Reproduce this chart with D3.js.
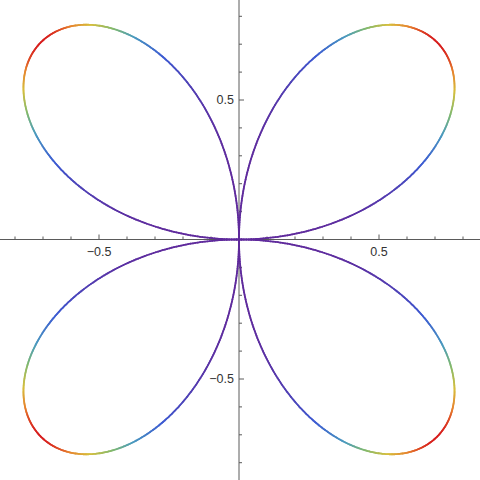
<!DOCTYPE html>
<html><head><meta charset="utf-8">
<script src="https://cdn.jsdelivr.net/npm/d3@7"></script>
<style>html,body{margin:0;padding:0;background:#fff;}</style>
</head><body>
<svg id="chart" width="480" height="480"></svg>
<script>
// Polar rose r = sin(petalFactor * theta)
const petalFactor = 2;
const thetaSamples = d3.range(0, 2 * Math.PI + 1e-9, Math.PI / 720);
const majorTicks = [-0.5, 0.5];
const majorTickLabels = ["\u22120.5", "0.5"];
const minorTicks = [-0.8, -0.7, -0.6, -0.4, -0.3, -0.2, -0.1, 0.1, 0.2, 0.3, 0.4, 0.6, 0.7, 0.8];
const rainbowStops = [0, 0.25, 0.45, 0.6, 0.77, 0.9, 1];
const rainbowColors = ["#5f2a9c", "#3c5ad2", "#4b9bbe", "#82b96e", "#d7be3c", "#e6822d", "#d71e1e"];

const svg = d3.select("#chart");
const x = d3.scaleLinear().domain([-0.5, 0.5]).range([99, 379]);
const y = d3.scaleLinear().domain([0.5, -0.5]).range([100, 379]);
const color = d3.scaleLinear().domain(rainbowStops).range(rainbowColors).interpolate(d3.interpolateRgb);

const axisColor = "#5a5a5a";
// axes
svg.append("line").attr("x1", 0).attr("x2", 480).attr("y1", y(0)).attr("y2", y(0))
  .attr("stroke", axisColor).attr("stroke-width", 1);
svg.append("line").attr("y1", 0).attr("y2", 480).attr("x1", x(0)).attr("x2", x(0))
  .attr("stroke", axisColor).attr("stroke-width", 1);

// ticks
svg.selectAll(".xmin").data(minorTicks).join("line")
  .attr("x1", d => x(d)).attr("x2", d => x(d)).attr("y1", y(0)).attr("y2", y(0) - 3)
  .attr("stroke", axisColor);
svg.selectAll(".xmaj").data(majorTicks).join("line")
  .attr("x1", d => x(d)).attr("x2", d => x(d)).attr("y1", y(0)).attr("y2", y(0) - 5)
  .attr("stroke", axisColor);
svg.selectAll(".ymin").data(minorTicks).join("line")
  .attr("y1", d => y(d)).attr("y2", d => y(d)).attr("x1", x(0)).attr("x2", x(0) + 3)
  .attr("stroke", axisColor);
svg.selectAll(".ymaj").data(majorTicks).join("line")
  .attr("y1", d => y(d)).attr("y2", d => y(d)).attr("x1", x(0)).attr("x2", x(0) + 5)
  .attr("stroke", axisColor);

const font = "'Liberation Sans', Arial, sans-serif";
svg.selectAll(".xlab").data(majorTicks).join("text")
  .attr("x", d => x(d)).attr("y", y(0) + 16)
  .attr("text-anchor", "middle").attr("font-family", font).attr("font-size", 12.5)
  .attr("fill", "#333").text((d, i) => majorTickLabels[i]);
svg.selectAll(".ylab").data(majorTicks).join("text")
  .attr("x", x(0) - 5).attr("y", d => y(d)).attr("dy", "0.35em")
  .attr("text-anchor", "end").attr("font-family", font).attr("font-size", 12.5)
  .attr("fill", "#333").text((d, i) => majorTickLabels[i]);

// curve
const pts = thetaSamples.map(t => {
  const r = Math.sin(petalFactor * t);
  return { px: x(r * Math.cos(t)), py: y(r * Math.sin(t)), a: Math.abs(r) };
});
const g = svg.append("g");
for (let i = 0; i < pts.length - 1; i++) {
  const p = pts[i], q = pts[i + 1];
  const a = (p.a + q.a) / 2;
  g.append("line").attr("x1", p.px).attr("y1", p.py).attr("x2", q.px).attr("y2", q.py)
    .attr("stroke", color(Math.pow(a, 4))).attr("stroke-width", 1.8).attr("stroke-linecap", "round");
}
</script>
</body></html>
